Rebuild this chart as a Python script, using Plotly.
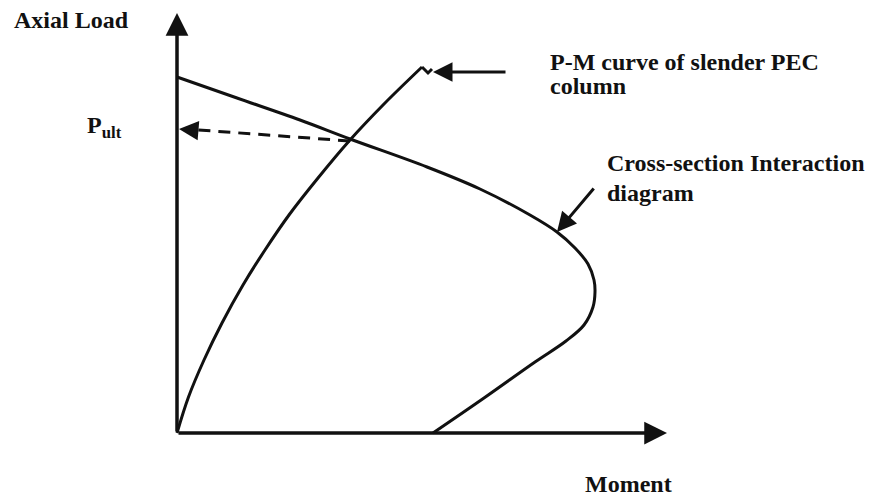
import plotly.graph_objects as go

# Cross-section interaction diagram (moment, axial load) in schematic units
inter_moment = [0, 60, 123, 173, 250, 303, 353, 380, 398, 411, 417, 418, 416, 407, 389, 358, 307, 256]
inter_load = [356, 335, 313, 294, 266, 244, 218, 201, 185, 169, 153, 141, 126, 108, 92, 71, 35, 0]

# P-M curve of slender PEC column
pm_moment = [0, 11.5, 27, 45, 66, 88, 112, 141, 173, 207, 245]
pm_load = [0, 36, 73, 110, 148, 183, 218, 255, 293, 329, 366]
hook_moment = [245, 251, 255]
hook_load = [366, 360, 364]

# Dashed projection to P_ult
dash_moment = [173, 8]
dash_load = [292, 304]

INK = "#111111"
FONT = "Liberation Serif"

fig = go.Figure()
fig.add_trace(go.Scatter(x=inter_moment, y=inter_load, mode="lines",
                         line=dict(color=INK, width=3, shape="spline", smoothing=1.0),
                         hoverinfo="skip"))
fig.add_trace(go.Scatter(x=pm_moment, y=pm_load, mode="lines",
                         line=dict(color=INK, width=3, shape="spline", smoothing=1.0),
                         hoverinfo="skip"))
fig.add_trace(go.Scatter(x=hook_moment, y=hook_load, mode="lines",
                         line=dict(color=INK, width=3), hoverinfo="skip"))
fig.add_trace(go.Scatter(x=dash_moment, y=dash_load, mode="lines",
                         line=dict(color=INK, width=3, dash="12px,8px"), hoverinfo="skip"))

arrows = [
    # (tip_x, tip_y, tail_x, tail_y, width)
    (0, 420, 0, 0, 3.5),      # y axis
    (490, 0, 0, 0, 3.5),      # x axis
    (256, 361, 330, 361, 3),  # pointer to P-M curve
    (380, 201, 418, 246, 3),  # pointer to interaction diagram
    (2, 304, 14, 303, 3),     # head of dashed arrow
]
for tx, ty, sx, sy, w in arrows:
    fig.add_annotation(x=tx, y=ty, ax=sx, ay=sy, xref="x", yref="y", axref="x", ayref="y",
                       showarrow=True, arrowhead=2, arrowsize=1.3, arrowwidth=w,
                       arrowcolor=INK, text="")

labels = [
    ("<b>Axial Load</b>", -165, 413),
    ("<b>P<sub>ult</sub></b>", -92, 306),
    ("<b>P-M curve of slender PEC</b>", 371, 371),
    ("<b>column</b>", 371, 347),
    ("<b>Cross-section Interaction</b>", 428, 270),
    ("<b>diagram</b>", 428, 240),
    ("<b>Moment</b>", 406, -51),
]
for txt, x, y in labels:
    fig.add_annotation(x=x, y=y, xref="x", yref="y", text=txt, showarrow=False,
                       xanchor="left", yanchor="middle",
                       font=dict(family=FONT, size=24, color=INK))

# The page body has an 8px margin; the plot area starts 8px in.
fig.update_layout(
    width=875, height=489,
    margin=dict(l=0, r=0, t=0, b=0),
    paper_bgcolor="white", plot_bgcolor="white",
    showlegend=False,
    xaxis=dict(range=[-169, 706], visible=False, fixedrange=True),
    yaxis=dict(range=[-64, 425], visible=False, fixedrange=True),
)

fig.write_html("out.html")
